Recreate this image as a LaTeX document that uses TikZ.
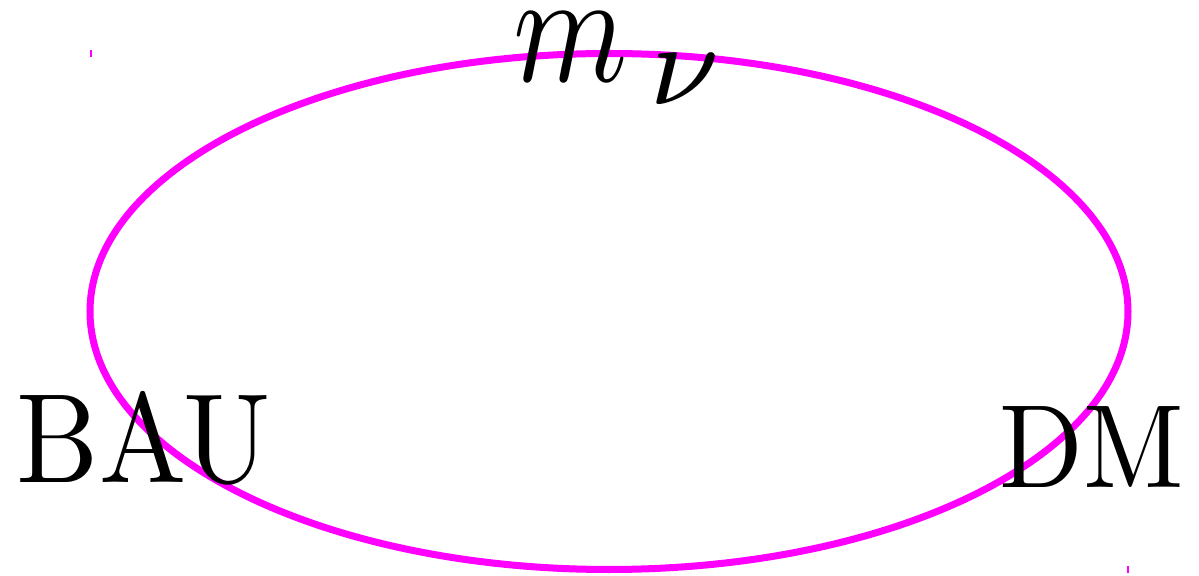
\documentclass[tikz,border=0pt]{standalone}
\usepackage{amsmath}
\usepackage{xcolor}
\usepackage{tikz}
\usetikzlibrary{positioning}
\definecolor{loopmagenta}{RGB}{255,0,255}

\begin{document}
\begin{tikzpicture}[x=0.01cm,y=-0.01cm,
  bigtext/.style={inner sep=0pt, anchor=base},
  loopline/.style={draw=loopmagenta, line width=0.07cm}]
\useasboundingbox (0,0) rectangle (1199,576);
% the triangle of observables
\draw[loopline] (609,311.5) ellipse [x radius=519, y radius=258];
\draw[loopmagenta, line width=0.02cm] (91,50) -- (91,57);
\draw[loopmagenta, line width=0.02cm] (1128,566) -- (1128,573);
\node[bigtext, anchor=base west] (mnu) at (513,82)
  {\scalebox{3.7}[4.55]{$m\kern1.6pt\lower1.4pt\hbox{\scalebox{1.25}[1.05]{$\scriptstyle\nu$}}$}};
\node[bigtext, anchor=base west] (bau) at (16,482) {\scalebox{3.31}[3.62]{BAU}};
\node[bigtext, anchor=base east] (dm) at (1185,488) {\scalebox{3.12}[3.37]{DM}};
\end{tikzpicture}
\end{document}
